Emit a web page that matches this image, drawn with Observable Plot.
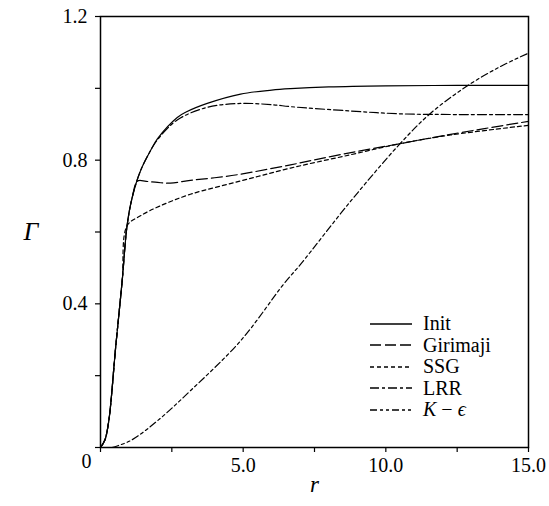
<!DOCTYPE html>
<html>
<head>
<meta charset="utf-8">
<style>
  html, body { margin: 0; padding: 0; background: white; }
  #wrap { position: relative; width: 549px; height: 506px; font-family: 'Liberation Serif', 'Times New Roman', Times, 'DejaVu Serif', 'Noto Serif', serif; }
  #legend { position: absolute; left: 370px; top: 312.75px; font-size: 20px; color: black; font-family: 'Liberation Serif', 'Times New Roman', Times, 'DejaVu Serif', 'Noto Serif', serif; }
  #legend .row { height: 21.5px; display: flex; align-items: center; white-space: nowrap; }
  #legend svg { margin-right: 11px; }
</style>
<script src="https://cdn.jsdelivr.net/npm/d3@7"></script>
<script src="https://cdn.jsdelivr.net/npm/@observablehq/plot@0.6"></script>
</head>
<body>
<div id="wrap"><div id="legend"></div></div>
<script>
// ---- data ----
const seriesNames = ["Init", "Girimaji", "SSG", "LRR", "K − ϵ"];

const initR = [0, 0.15, 0.29, 0.53, 0.76, 0.93, 1.11, 1.4, 1.75, 2.0, 2.69, 3.0, 3.74, 4.91, 6.0, 6.66, 8.0, 10, 12.5, 15];
const initG = [0, 0.02, 0.074, 0.278, 0.464, 0.617, 0.696, 0.77, 0.826, 0.86, 0.919, 0.934, 0.958, 0.984, 0.995, 0.999, 1.004, 1.007, 1.008, 1.008];

const girR = [0, 0.15, 0.29, 0.53, 0.76, 0.93, 1.11, 1.3, 1.6, 2.0, 2.45, 3.15, 4.0, 4.91, 6.66, 8.5, 10.5, 12.27, 15];
const girG = [0, 0.02, 0.074, 0.278, 0.464, 0.617, 0.696, 0.742, 0.741, 0.738, 0.736, 0.744, 0.751, 0.761, 0.787, 0.817, 0.846, 0.872, 0.908];

const ssgR = [0, 0.15, 0.29, 0.53, 0.76, 0.93, 1.4, 2.1, 3.15, 4.91, 6.66, 8.76, 10.5, 12.27, 15];
const ssgG = [0, 0.02, 0.074, 0.278, 0.464, 0.617, 0.645, 0.673, 0.705, 0.742, 0.778, 0.815, 0.846, 0.87, 0.897];

const lrrR = [0, 0.15, 0.29, 0.53, 0.76, 0.93, 1.11, 1.4, 1.75, 2.0, 2.69, 3.74, 4.91, 6.07, 6.66, 8.76, 10.5, 12.5, 15];
const lrrG = [0, 0.02, 0.074, 0.278, 0.464, 0.617, 0.696, 0.77, 0.826, 0.857, 0.912, 0.947, 0.958, 0.954, 0.949, 0.937, 0.929, 0.927, 0.927];

const keR = [0.4, 1.05, 1.99, 3.15, 4.91, 6.42, 7.01, 8.76, 10.5, 11.56, 12.82, 14, 15];
const keG = [0, 0.019, 0.074, 0.158, 0.297, 0.455, 0.51, 0.685, 0.846, 0.93, 1.005, 1.06, 1.098];

const xTicks = [0, 2.5, 5, 7.5, 10, 12.5, 15];
const xTickLabels = [5, 10, 15];
const yTicks = [0, 0.2, 0.4, 0.6, 0.8, 1.0, 1.2];
const yTickLabels = [0.4, 0.8, 1.2];
const cornerLabel = ["0"];

// ---- build ----
const toRows = (rs, gs, s) => rs.map((r, i) => ({r, g: gs[i], s}));
const dashes = ["none", "11,4", "4,3", "9,3,3,3", "7,3,3,3,3,3"];
const series = [
  toRows(initR, initG, seriesNames[0]),
  toRows(girR, girG, seriesNames[1]),
  toRows(ssgR, ssgG, seriesNames[2]),
  toRows(lrrR, lrrG, seriesNames[3]),
  toRows(keR, keG, seriesNames[4])
];

const serif = "'Liberation Serif', 'Times New Roman', Times, 'DejaVu Serif', 'Noto Serif', serif";
const lineMarks = [4, 2, 1, 3, 0].map(i =>
  Plot.line(series[i], {x: "r", y: "g", stroke: "black", strokeWidth: 1.2,
    strokeDasharray: dashes[i] === "none" ? null : dashes[i], curve: "catmull-rom"})
);

const chart = Plot.plot({
  width: 549,
  height: 506,
  marginLeft: 100,
  marginRight: 21,
  marginTop: 16,
  marginBottom: 59,
  style: {fontFamily: serif, fontSize: "20px", background: "white", color: "black"},
  x: {domain: [0, 15]},
  y: {domain: [0, 1.2]},
  marks: [
    Plot.axisX({ticks: xTicks, tickSize: 5, tickPadding: 5, strokeWidth: 1.2, label: null,
      tickFormat: d => xTickLabels.includes(d) ? d.toFixed(1) : ""}),
    Plot.axisY({ticks: yTicks, tickSize: 5, tickPadding: 8, strokeWidth: 1.2, label: null,
      tickFormat: d => yTickLabels.some(v => Math.abs(v - d) < 1e-9) ? d.toFixed(1) : ""}),
    Plot.text(cornerLabel, {text: d => d, frameAnchor: "bottom-left", dx: -19, dy: 20, fontSize: 20}),
    ...lineMarks,
    Plot.frame({stroke: "black", strokeWidth: 1.5}),
    Plot.text(["r"], {text: d => d, frameAnchor: "bottom", dy: 44, fontSize: 23, fontStyle: "italic"}),
    Plot.text(["Γ"], {text: d => d, frameAnchor: "left", dx: -77, dy: 0, fontSize: 26, fontStyle: "italic"})
  ]
});

const wrap = document.getElementById("wrap");
wrap.insertBefore(chart, wrap.firstChild);

// legend (inside plot area, lower right)
const legend = document.getElementById("legend");
seriesNames.forEach((name, i) => {
  const row = document.createElement("div");
  row.className = "row";
  const dash = dashes[i] === "none" ? "" : ` stroke-dasharray="${dashes[i]}"`;
  row.innerHTML = `<svg width="42" height="10" viewBox="0 0 42 10"><line x1="0" y1="5" x2="42" y2="5" stroke="black" stroke-width="1.3"${dash}/></svg>` +
    (i === 4 ? `<span><i>K</i> − <i>ϵ</i></span>` : `<span>${name}</span>`);
  legend.appendChild(row);
});
</script>
</body>
</html>
